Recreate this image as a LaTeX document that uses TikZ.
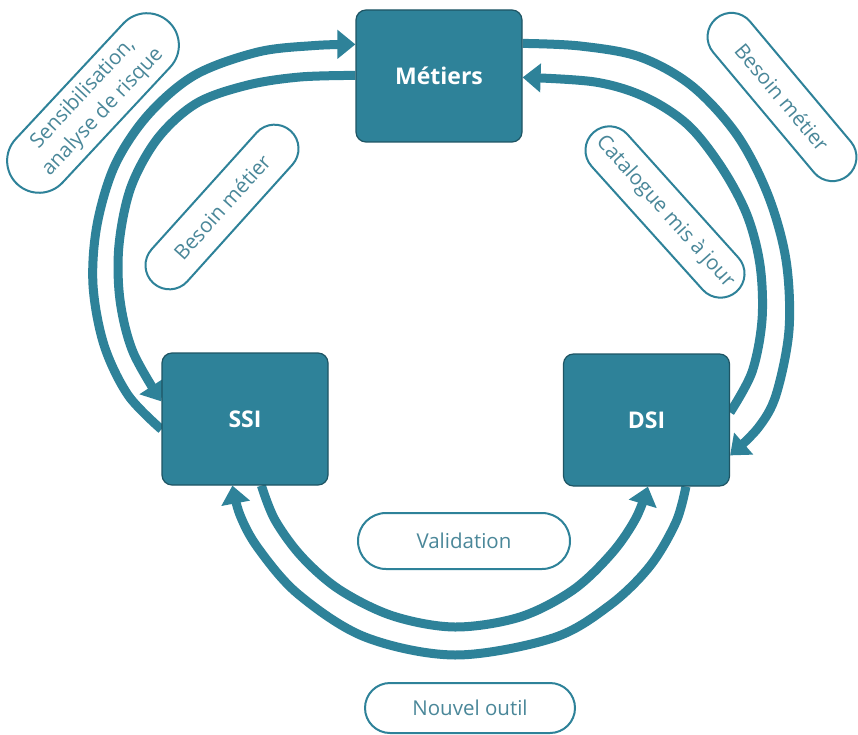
\documentclass[tikz,border=0pt]{standalone}
\usepackage{fontspec}
\setmainfont{Open Sans}
\usetikzlibrary{arrows.meta,calc,backgrounds}
\definecolor{tealA}{HTML}{2E8299}
\definecolor{tealD}{HTML}{1E5564}
\definecolor{labtxt}{HTML}{4A8799}
\begin{document}
\begin{tikzpicture}[x=1pt,y=-1pt,
  box/.style={draw=tealD,line width=1.2pt,fill=tealA,rounded corners=10pt,
    minimum width=166pt,minimum height=132pt,text=white,
    font=\fontsize{23}{28}\selectfont\bfseries,inner sep=0pt},
  pill/.style={draw=tealA,line width=2pt,fill=white,text=labtxt,
    font=\fontsize{20.5}{27}\selectfont,minimum height=48pt,rounded corners=24pt,
    inner sep=0pt,align=center},
  arr/.style={draw=tealA,line width=9pt,-{Triangle[length=18pt,width=28pt]}},
  curve/.style={smooth,tension=0.55}
]
\useasboundingbox (0,0) rectangle (858,735);
% boxes
\node[box] (met) at (439,76) {Métiers};
\node[box] (ssi) at (245,419) {SSI};
\node[box] (dsi) at (646.5,420) {DSI};
% end points on the boxes
\coordinate (loS) at ($(ssi.north west)+(0,77)$);
\coordinate (loE) at ($(met.north west)+(0,35)$);
\coordinate (liS) at ($(met.north west)+(0,66)$);
\coordinate (liE) at ($(ssi.north west)+(0,49)$);
\coordinate (roS) at ($(met.north east)+(0,34)$);
\coordinate (roE) at ($(dsi.north east)+(0,102)$);
\coordinate (riS) at ($(dsi.north east)+(0,59)$);
\coordinate (riE) at ($(met.north east)+(0,68)$);
\coordinate (biS) at ($(ssi.south west)+(100,0)$);
\coordinate (biE) at ($(dsi.south west)+(85,0)$);
\coordinate (boS) at ($(dsi.south west)+(123,0)$);
\coordinate (boE) at ($(ssi.south west)+(71,0)$);
\begin{pgfonlayer}{background}
\fill[white] (0,0) rectangle (858,735);
% left pair
\draw[arr] plot[curve] coordinates {(loS) (128,395) (104,345) (93,285) (97,225) (115,165) (148,115) (195,75) (258,52) (315,45.5) (loE)};
\draw[arr] plot[curve] coordinates {(liS) (300,77) (248,85) (197,103) (158,138) (131,187) (119,245) (120,300) (133,352) (liE)};
% right pair
\draw[arr] plot[curve] coordinates {(roS) (580,46) (640,57) (692,86) (737,135) (768,195) (786,260) (789,330) (776,395) (758,428) (roE)};
\draw[arr] plot[curve] coordinates {(riS) (752,372) (762,320) (760,265) (747,215) (722,168) (688,125) (645,97) (595,82) (riE)};
% bottom pair
\draw[arr] plot[curve] coordinates {(biS) (275,520) (302,557) (340,590) (393,616) (455,627) (520,617) (573,590) (612,553) (636,518) (biE)};
\draw[arr] plot[curve] coordinates {(boS) (676,522) (650,566) (610,605) (553,638) (455,655) (365,637) (298,594) (258,548) (240,515) (boE)};
\end{pgfonlayer}
% labels
\node[pill,minimum width=222pt,minimum height=64pt,rounded corners=32pt,rotate=47] (l1) at (93,103) {Sensibilisation,\\analyse de risque};
\node[pill,minimum width=205pt,rotate=48] (l2) at (222,207) {Besoin métier};
\node[pill,minimum width=214pt,rotate=-48] (l3) at (665,212) {Catalogue mis à jour};
\node[pill,minimum width=205pt,rotate=-50] (l4) at (782,97) {Besoin métier};
\node[pill,minimum width=212pt,minimum height=56pt,rounded corners=28pt] (l5) at (464,541) {Validation};
\node[pill,minimum width=210pt,minimum height=50pt,rounded corners=25pt] (l6) at (470,708) {Nouvel outil};
\end{tikzpicture}
\end{document}
